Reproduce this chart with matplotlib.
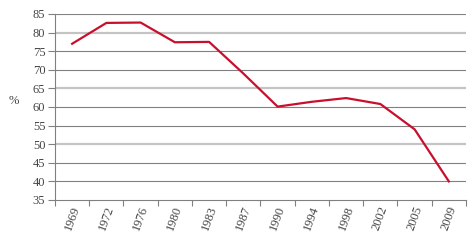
import matplotlib.pyplot as plt

# DATA
years = ['1969', '1972', '1976', '1980', '1983', '1987', '1990',
         '1994', '1998', '2002', '2005', '2009']
values = [77.0, 82.6, 82.7, 77.4, 77.5, 69.0, 60.1, 61.4, 62.4, 60.8, 54.0, 40.0]
yticks = [35, 40, 45, 50, 55, 60, 65, 70, 75, 80, 85]

plt.rcParams['font.family'] = ['Liberation Serif', 'DejaVu Serif']

fig = plt.figure(figsize=(4.75, 2.4), dpi=100)
ax = fig.add_axes([0.1158, 0.1667, 0.8652, 0.775])

# gridlines: every third one lighter and thicker
for v in yticks[1:]:
    if v in (50, 65, 80):
        ax.axhline(v, color='#c4c4c4', lw=1.6, zorder=1)
    else:
        ax.axhline(v, color='#808080', lw=0.8, zorder=1)

x = list(range(len(years)))
ax.plot(x, values, color='#c8102e', lw=1.6, zorder=3)

ax.set_xlim(-0.5, len(years) - 0.5)
ax.set_ylim(35, 85)
ax.set_yticks(yticks)
ax.set_yticklabels([str(v) for v in yticks], fontsize=9, color='#444444')

ax.set_xticks([i - 0.5 for i in range(len(years) + 1)])
ax.set_xticklabels([])
ax.set_xticks(x, minor=True)
ax.set_xticklabels(years, minor=True, rotation=70, fontsize=9, color='#444444',
                   ha='center', va='top')
ax.tick_params(axis='x', which='minor', length=0, pad=3)
ax.tick_params(axis='x', which='major', length=4, color='#808080', width=0.8)
ax.tick_params(axis='y', length=5, color='#808080', width=0.8, pad=2)

for s in ['top', 'right']:
    ax.spines[s].set_visible(False)
for s in ['left', 'bottom']:
    ax.spines[s].set_color('#808080')
    ax.spines[s].set_linewidth(0.8)

ax.set_ylabel('%', rotation=0, fontsize=9, color='#444444', va='center', ha='center')
ax.yaxis.set_label_coords(-0.1, 0.53)

fig.savefig('out.png', dpi=100)
